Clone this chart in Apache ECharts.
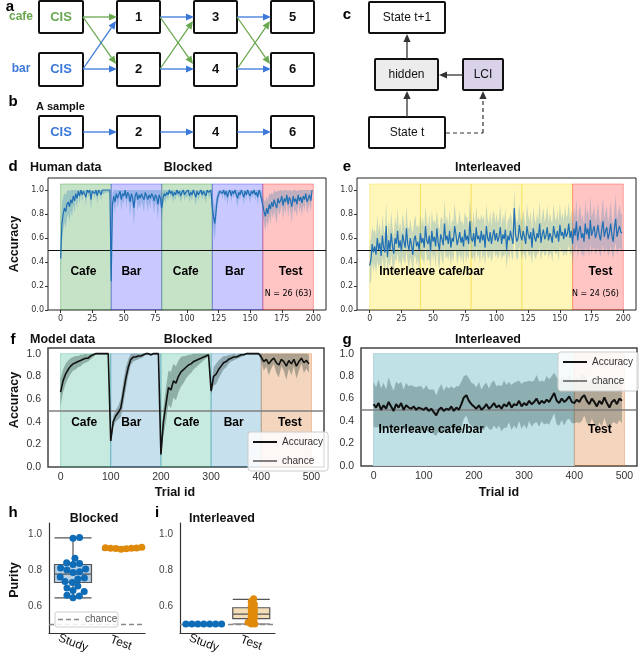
<!DOCTYPE html>
<html><head><meta charset="utf-8">
<script src="https://cdn.jsdelivr.net/npm/echarts@6/dist/echarts.min.js"></script>
<style>html,body{margin:0;padding:0;background:#fff}#c{width:640px;height:665px}</style>
</head><body><div id="c"></div><script>
// ---------------- DATA ----------------
// d: human, blocked (200 trials)
const dMean = [
.43,.72,.80,.85,.82,.88,.90,.86,.92,.89,.95,.91,.97,.93,.99,.95,1.0,.96,.99,1.0,.94,1.0,.98,1.0,.92,.99,1.0,.97,1.0,.95,1.0,1.0,.96,1.0,.99,1.0,1.0,1.0,1.0,1.0,
.24,.88,.95,.90,.97,.93,.96,.99,.92,.97,.95,1.0,.93,.98,.96,.90,.97,.93,.85,.95,.98,.92,.96,.93,.97,.94,.92,.98,.95,.92,.96,.93,.97,.95,.91,.96,.94,.88,.96,.93,
.85,.93,.97,.95,.98,.96,1.0,.97,.99,.95,.98,.96,1.0,.97,.99,.95,.98,1.0,.96,.98,.97,1.0,.95,.98,.96,1.0,.97,.94,.99,.96,.98,1.0,.96,.99,.97,.95,1.0,.98,.97,1.0,
.85,.78,.72,.82,.93,.96,.99,1.0,.97,1.0,.96,.99,.94,.98,1.0,.95,.99,.97,1.0,.96,.93,.98,.96,1.0,.97,.94,.99,.96,1.0,.97,.95,.99,.97,1.0,.96,.98,.94,1.0,.97,.98,
.87,.82,.78,.85,.80,.88,.84,.90,.86,.92,.88,.85,.93,.89,.91,.95,.87,.93,.90,.96,.88,.94,.91,.86,.95,.90,.93,.88,.96,.91,.94,.89,.95,.92,.97,.90,.93,.96,.91,1.0];
const dErr = [
.18,.16,.14,.12,.14,.11,.10,.13,.09,.12,.07,.10,.05,.09,.03,.07,.02,.06,.03,.02,.08,.02,.04,.02,.09,.03,.02,.05,.02,.07,.02,.02,.05,.02,.03,.02,.02,.02,.02,.02,
.08,.09,.06,.1,.05,.08,.06,.04,.1,.06,.07,.03,.09,.05,.07,.12,.06,.09,.15,.07,.05,.1,.07,.09,.06,.08,.11,.05,.07,.1,.06,.09,.05,.07,.11,.06,.08,.13,.06,.08,
.1,.07,.04,.06,.03,.05,.02,.04,.03,.06,.03,.05,.02,.04,.03,.06,.04,.02,.05,.03,.04,.02,.06,.03,.05,.02,.04,.07,.03,.05,.03,.02,.05,.03,.04,.06,.02,.03,.04,.02,
.1,.12,.14,.1,.05,.05,.03,.02,.05,.02,.06,.03,.07,.04,.02,.06,.03,.04,.02,.05,.08,.04,.05,.02,.04,.07,.03,.05,.02,.04,.06,.03,.04,.02,.05,.03,.07,.02,.04,.03,
.08,.1,.12,.1,.11,.09,.12,.08,.1,.09,.11,.13,.08,.1,.09,.07,.12,.08,.1,.06,.11,.08,.1,.13,.07,.1,.09,.11,.06,.1,.08,.11,.07,.09,.05,.1,.08,.06,.1,.02];
const dBlocks = [[0,40],[40,80],[80,120],[120,160],[160,200]];
const dBlockNames = ['Cafe','Bar','Cafe','Bar','Test'];

// e: human, interleaved (200 trials)
const eMean = [
.37,.42,.55,.48,.53,.46,.60,.50,.56,.45,.62,.52,.48,.70,.44,.58,.50,.64,.53,.47,
.60,.55,.66,.52,.58,.49,.63,.57,.52,.68,.55,.50,.60,.54,.46,.59,.62,.53,.57,.50,
.64,.56,.60,.52,.70,.58,.55,.62,.49,.66,.57,.61,.53,.68,.56,.50,.63,.59,.54,.72,
.58,.62,.55,.66,.52,.60,.57,.70,.63,.54,.59,.65,.56,.61,.53,.67,.58,.62,.55,.74,
.60,.57,.64,.53,.69,.59,.62,.56,.66,.58,.63,.52,.70,.60,.57,.65,.55,.62,.67,.58,
.64,.57,.61,.69,.55,.63,.59,.67,.50,.62,.58,.66,.60,.55,.85,.63,.57,.60,.71,.62,
.58,.66,.61,.55,.70,.63,.59,.65,.52,.68,.61,.57,.64,.60,.72,.56,.63,.67,.59,.62,
.69,.58,.64,.61,.56,.70,.63,.60,.66,.57,.71,.62,.65,.59,.68,.61,.64,.72,.60,.66,
.55,.68,.62,.74,.58,.66,.70,.60,.64,.57,.72,.63,.68,.59,.75,.62,.66,.70,.60,.64,
.71,.63,.58,.67,.74,.61,.66,.69,.59,.64,.72,.62,.57,.68,.76,.61,.66,.70,.65,.64];
const eErr = [
.16,.18,.15,.17,.14,.16,.19,.15,.17,.14,.18,.15,.16,.20,.14,.17,.15,.18,.16,.14,
.17,.15,.19,.14,.16,.15,.18,.16,.14,.19,.15,.17,.16,.14,.18,.15,.17,.16,.14,.18,
.16,.14,.18,.15,.17,.16,.14,.19,.15,.17,.16,.14,.18,.15,.17,.16,.14,.18,.16,.20,
.15,.17,.14,.18,.16,.15,.17,.19,.14,.16,.15,.18,.16,.14,.17,.15,.19,.16,.14,.18,
.16,.15,.18,.14,.17,.16,.15,.18,.14,.17,.16,.15,.19,.16,.14,.17,.15,.18,.16,.14,
.17,.15,.16,.19,.14,.17,.15,.18,.16,.14,.17,.15,.16,.14,.20,.16,.15,.17,.18,.14,
.16,.18,.15,.14,.19,.16,.15,.17,.14,.18,.16,.15,.17,.14,.19,.15,.16,.18,.14,.16,
.18,.15,.17,.14,.16,.19,.15,.14,.17,.16,.18,.14,.16,.15,.19,.16,.15,.18,.14,.17,
.16,.18,.15,.19,.14,.17,.18,.15,.16,.14,.19,.16,.17,.15,.20,.16,.15,.18,.14,.16,
.19,.15,.14,.17,.20,.15,.16,.18,.14,.16,.19,.15,.14,.17,.20,.15,.16,.18,.15,.16];
const eBlocks = [[0,40],[40,80],[80,120],[120,160],[160,200]];
const eBlockNames = ['Interleave','Interleave','Interleave','Interleave','Test'];

// f: model, blocked (every 5th trial of 500)
const fMean = [
.66,.76,.82,.86,.89,.91,.92,.93,.94,.95,.96,.96,.98,.99,1.0,1.0,1.0,1.0,1.0,1.0,
.23,.40,.45,.48,.52,.65,.78,.88,.95,.97,.97,.98,.98,.99,1.0,1.0,.99,1.0,1.0,1.0,
.11,.40,.55,.70,.68,.76,.74,.80,.84,.86,.88,.90,.91,.93,.94,.95,.96,.97,.98,.99,
.67,.80,.82,.86,.89,.92,.93,.95,.96,.97,.97,.98,.99,.99,1.0,1.0,1.0,1.0,1.0,1.0,
.97,.93,.95,.91,.94,.96,.92,.90,.95,.93,.89,.94,.91,.95,.89,.93,.96,.92,.94,.91];
const fErr = [
.12,.10,.09,.08,.07,.06,.06,.05,.05,.04,.04,.03,.03,.02,.01,.01,.01,.01,.01,.01,
.03,.05,.05,.06,.08,.10,.10,.07,.05,.04,.03,.03,.02,.02,.01,.01,.01,.01,.01,.01,
.03,.12,.15,.15,.16,.15,.15,.14,.13,.12,.10,.09,.08,.07,.06,.05,.04,.03,.02,.02,
.03,.08,.09,.08,.07,.06,.05,.04,.03,.03,.02,.02,.02,.01,.01,.01,.01,.01,.01,.01,
.04,.08,.06,.1,.07,.05,.09,.11,.06,.08,.12,.07,.1,.06,.11,.08,.05,.09,.07,.08];
const fBlocks = [[0,100],[100,200],[200,300],[300,400],[400,500]];
const fBlockNames = ['Cafe','Bar','Cafe','Bar','Test'];

// g: model, interleaved (every 5th trial of 500)
const gMean = [
.55,.52,.56,.50,.54,.51,.57,.53,.49,.55,.52,.56,.50,.54,.52,.51,.53,.50,.52,.51,
.50,.52,.49,.51,.48,.45,.50,.52,.49,.51,.50,.53,.49,.52,.50,.55,.61,.63,.58,.55,
.53,.51,.54,.50,.52,.55,.51,.53,.56,.52,.54,.51,.55,.53,.57,.52,.55,.54,.58,.53,
.56,.54,.58,.55,.57,.60,.55,.58,.56,.59,.57,.61,.65,.58,.56,.60,.57,.59,.62,.57,
.56,.59,.57,.61,.63,.58,.55,.60,.57,.53,.58,.55,.61,.56,.52,.57,.59,.55,.60,.58];
const gErr = [
.2,.18,.21,.19,.2,.17,.22,.19,.18,.2,.21,.19,.18,.2,.19,.21,.18,.2,.19,.2,
.18,.2,.19,.17,.2,.18,.19,.21,.18,.2,.19,.18,.2,.19,.21,.2,.19,.18,.2,.19,
.2,.19,.21,.18,.2,.19,.18,.21,.2,.19,.18,.2,.21,.19,.18,.2,.19,.21,.18,.2,
.19,.21,.18,.2,.19,.21,.2,.18,.19,.21,.2,.19,.18,.21,.2,.19,.21,.18,.2,.19,
.18,.2,.19,.21,.18,.2,.19,.18,.2,.21,.19,.2,.18,.2,.21,.19,.2,.18,.19,.2];
const gBlocks = [[0,400],[400,500]];
const gBlockNames = ['Interleave','Test'];

// h / i: purity
const purityCats = ['Study','Test'];
const hStudy = [0.98,0.975,0.865,0.84,0.835,0.83,0.81,0.805,0.80,0.79,0.785,0.76,0.755,0.75,0.735,0.73,0.71,0.70,0.685,0.68,0.66,0.655,0.645];
const hTest = [0.925,0.92,0.918,0.922,0.915,0.92,0.917,0.923];
const hBox = [[0.645,0.73,0.777,0.83,0.978],[0.91,0.915,0.92,0.922,0.927]];
const iStudy = [0.5,0.5,0.5,0.5,0.5,0.5,0.5];
const iTest = [0.64,0.625,0.61,0.60,0.59,0.58,0.57,0.56,0.55,0.54,0.53,0.52,0.51,0.50,0.50];
const iBox = [[0.5,0.5,0.5,0.5,0.5],[0.5,0.53,0.555,0.59,0.637]];
const chanceLevel = 0.5;

const accTicks = [0,0.2,0.4,0.6,0.8,1.0];
const humanXTicks = [0,25,50,75,100,125,150,175,200];
const modelXTicks = [0,100,200,300,400,500];
const purityTicks = [0.6,0.8,1.0];

// ---------------- STYLE / BUILD ----------------
const FONT = "'Liberation Sans', Arial, Helvetica, sans-serif";
const DJ = "'DejaVu Sans', sans-serif";
const seq = (n, step) => Array.from({length:n}, (_, i) => i * step);
const dTrials = seq(dMean.length, 1), eTrials = seq(eMean.length, 1);
const fTrials = seq(fMean.length, 5), gTrials = seq(gMean.length, 5);

const humanColors = {
  Cafe:{fill:'rgba(0,128,0,0.22)', stroke:'rgba(0,128,0,0.3)'},
  Bar:{fill:'rgba(0,0,255,0.21)', stroke:'rgba(0,0,255,0.3)'},
  Test:{fill:'rgba(255,0,0,0.23)', stroke:'rgba(255,0,0,0.3)'},
  Interleave:{fill:'rgba(255,221,0,0.27)', stroke:'rgba(240,205,0,0.3)'}
};
const modelColors = {
  Cafe:{fill:'rgba(2,158,115,0.22)', stroke:'rgba(2,158,115,0.3)'},
  Bar:{fill:'rgba(1,115,178,0.22)', stroke:'rgba(1,115,178,0.3)'},
  Test:{fill:'rgba(213,94,0,0.26)', stroke:'rgba(213,94,0,0.3)'},
  Interleave:{fill:'rgb(192,225,230)', stroke:'rgb(180,215,222)'}
};

function spanSeries(ai, blocks, names, colors, top) {
  return {type:'custom', xAxisIndex:ai, yAxisIndex:ai, z:1, silent:true, clip:true,
    data: blocks.map(b => [b[0], b[1], top]), encode:{x:[0,1], y:2},
    renderItem:(p, api) => {
      const a = api.coord([api.value(0), api.value(2)]);
      const b = api.coord([api.value(1), 0]);
      const c = colors[names[p.dataIndex]];
      return {type:'rect', shape:{x:a[0], y:a[1], width:b[0]-a[0], height:b[1]-a[1]},
        style:{fill:c.fill, stroke:c.stroke, lineWidth:1}};
    }};
}
function bandSeries(ai, xs, mean, err, fill) {
  return {type:'custom', xAxisIndex:ai, yAxisIndex:ai, z:2, silent:true, clip:true,
    data:[[xs[0], mean[0]]],
    renderItem:(p, api) => {
      const up = xs.map((x,i) => api.coord([x, Math.min(1, mean[i] + err[i])]));
      const lo = xs.map((x,i) => api.coord([x, Math.max(0, mean[i] - err[i])])).reverse();
      return {type:'polygon', shape:{points: up.concat(lo)}, style:{fill}};
    }};
}
function lineSeries(ai, name, xs, mean, color, width, chanceColor, chanceWidth) {
  return {type:'line', name, xAxisIndex:ai, yAxisIndex:ai, z:4, symbol:'none', showSymbol:false,
    data: xs.map((x,i) => [x, mean[i]]), lineStyle:{color, width}, itemStyle:{color},
    markLine:{silent:true, symbol:'none', label:{show:false}, z:3,
      lineStyle:{color:chanceColor, width:chanceWidth, type:'solid'}, data:[{yAxis:chanceLevel}]}};
}
function textSeries(ai, items) {
  return {type:'custom', xAxisIndex:ai, yAxisIndex:ai, z:6, silent:true,
    data: items.map(t => [t.x, t.y]),
    renderItem:(p, api) => {
      const it = items[p.dataIndex];
      const c = api.coord([api.value(0), api.value(1)]);
      return {type:'text', x:c[0], y:c[1], style:{text:it.text, fill:'#000', fontSize:it.size||12,
        fontWeight:it.weight||'bold', fontFamily:it.family||FONT, align:'center', verticalAlign:'middle'}};
    }};
}
function swarm(vals, pxY, pxX, diam) {
  const order = vals.map((v,i)=>i).sort((a,b)=>vals[a]-vals[b]);
  const placed = [], res = new Array(vals.length);
  for (const i of order) {
    const y = vals[i]*pxY;
    const near = placed.filter(p => Math.abs(p.y - y) < diam);
    const cands = [0];
    near.forEach(p => { const dx = Math.sqrt(diam*diam - (p.y-y)*(p.y-y)); cands.push(p.x+dx+0.01, p.x-dx-0.01); });
    cands.sort((a,b)=>Math.abs(a)-Math.abs(b));
    const x = cands.find(c => near.every(p => (p.x-c)*(p.x-c) + (p.y-y)*(p.y-y) >= diam*diam - 0.05));
    placed.push({x, y}); res[i] = x / pxX;
  }
  return res;
}
const PX_Y = 110/(1.06-0.45), PX_X = 96/2;
function swarmSeries(ai, cat, vals, color, diam) {
  const off = swarm(vals, PX_Y, PX_X, diam);
  return {type:'scatter', xAxisIndex:ai, yAxisIndex:ai-2, z:5, symbolSize:7, silent:true,
    itemStyle:{color, opacity:1}, data: vals.map((v,i) => [cat + off[i], v])};
}
function boxSeries(ci, yi, box, fills) {
  return {type:'boxplot', xAxisIndex:ci, yAxisIndex:yi, z:3, silent:true, boxWidth:[37,37],
    itemStyle:{borderColor:'#555', borderWidth:1.2},
    data: box.map((b,i) => ({value:b, itemStyle:{color:fills[i], borderColor:'#555'}}))};
}
function chanceDash(ai) {
  return {type:'line', xAxisIndex:ai, yAxisIndex:ai-2, data:[], z:2,
    markLine:{silent:true, symbol:'none', label:{show:false},
      lineStyle:{color:'#888', width:1.3, type:[5,3]}, data:[{yAxis:chanceLevel}]}};
}

const valX = (gi, min, max, ticks, size, fam, showTick) => ({gridIndex:gi, type:'value', min, max,
  axisLine:{show:false}, splitLine:{show:false},
  axisTick:{show:showTick, length:3, customValues:ticks, lineStyle:{color:'#333'}},
  axisLabel:{customValues:ticks, fontSize:size, fontFamily:fam, color:'#333', margin:5}});
const valY = (gi, min, max, ticks, size, fam, showTick) => ({gridIndex:gi, type:'value', min, max,
  axisLine:{show:false, onZero:false}, splitLine:{show:false},
  axisTick:{show:showTick, length:3, customValues:ticks, lineStyle:{color:'#333'}},
  axisLabel:{customValues:ticks, fontSize:size, fontFamily:fam, color:'#333', margin:showTick?4:7,
    formatter:v => v.toFixed(1)}});
const catX = gi => ({gridIndex:gi, type:'category', data:purityCats,
  axisLine:{show:true, onZero:false, lineStyle:{color:'#333', width:1.2}}, axisTick:{show:false},
  axisLabel:{rotate:-20, fontSize:12, color:'#111', fontFamily:FONT, margin:10, align:'center'}});
const purY = gi => ({gridIndex:gi, type:'value', min:0.45, max:1.06,
  axisLine:{show:true, onZero:false, lineStyle:{color:'#333', width:1.2}}, splitLine:{show:false},
  axisTick:{show:false}, axisLabel:{customValues:purityTicks, fontSize:10, color:'#444', fontFamily:FONT, margin:7,
    formatter:v => v.toFixed(1)}});

// ---------------- DIAGRAMS (a, b, c) + titles ----------------
const G = [];
const GREEN = '#6aa84f', BLUE = '#3c78d8';
function box(x,y,w,h,fill){G.push({type:'rect', shape:{x,y,width:w,height:h,r:1}, style:{fill:fill||'#fff', stroke:'#111', lineWidth:2}});}
function txt(x,y,t,o){G.push({type:'text', x, y, z:10, style:Object.assign({text:t, fill:'#111', fontSize:12, fontFamily:FONT, align:'center', verticalAlign:'middle'}, o||{})});}
function arrow(x1,y1,x2,y2,color,lw,dash){
  const L=8, W=3.6, ang=Math.atan2(y2-y1,x2-x1);
  const bx=x2-L*Math.cos(ang), by=y2-L*Math.sin(ang);
  G.push({type:'line', shape:{x1,y1,x2:bx,y2:by}, style:{stroke:color, lineWidth:lw||1.3, lineDash:dash||null}});
  const px=-Math.sin(ang)*W, py=Math.cos(ang)*W;
  G.push({type:'polygon', shape:{points:[[x2,y2],[bx+px,by+py],[bx-px,by-py]]}, style:{fill:color}});
}
const B = {fontWeight:'bold', fontSize:13};
// a
box(39,1,44,32); box(117,1,43,32); box(194,1,43,32); box(271,1,43,32);
box(39,53,44,33); box(117,53,43,33); box(194,53,43,33); box(271,53,43,33);
txt(61,17,'CIS',Object.assign({fill:GREEN},B)); txt(61,69,'CIS',Object.assign({fill:BLUE},B));
txt(138.5,17,'1',B); txt(215.5,17,'3',B); txt(292.5,17,'5',B);
txt(138.5,69,'2',B); txt(215.5,69,'4',B); txt(292.5,69,'6',B);
arrow(83,17,117,17,GREEN); arrow(83,17,116,64,GREEN); arrow(83,69,116,21,BLUE); arrow(83,69,117,69,BLUE);
arrow(160,17,194,17,BLUE); arrow(160,17,193,64,GREEN); arrow(160,69,193,21,GREEN); arrow(160,69,194,69,BLUE);
arrow(237,17,271,17,BLUE); arrow(237,17,270,64,GREEN); arrow(237,69,270,21,GREEN); arrow(237,69,271,69,BLUE);
txt(21,17,'cafe',{fill:GREEN, fontWeight:'bold', fontSize:12});
txt(21,69,'bar',{fill:BLUE, fontWeight:'bold', fontSize:12});
// b
box(39,116,44,32); box(117,116,43,32); box(194,116,43,32); box(271,116,43,32);
txt(61,132,'CIS',Object.assign({fill:BLUE},B)); txt(138.5,132,'2',B); txt(215.5,132,'4',B); txt(292.5,132,'6',B);
arrow(83,132,117,132,BLUE); arrow(160,132,194,132,BLUE); arrow(237,132,271,132,BLUE);
txt(36,107,'A sample',{fontWeight:'bold', fontSize:11, align:'left'});
// c
box(369,2,76,31); box(375,59,63,31,'#ececec'); box(463,59,40,31,'#d9d2e9'); box(369,117,76,31);
txt(407,18,'State t+1',{fontSize:12}); txt(406.5,75,'hidden',{fontSize:12}); txt(483,75,'LCI',{fontSize:12}); txt(407,133,'State t',{fontSize:12});
arrow(407,59,407,34,'#333',1.3); arrow(407,117,407,91,'#333',1.3); arrow(463,75,439,75,'#333',1.3);
G.push({type:'line', shape:{x1:446,y1:133,x2:483,y2:133}, style:{stroke:'#333', lineWidth:1.2, lineDash:[4,3]}});
arrow(483,133,483,91,'#333',1.2,[4,3]);
// panel letters and titles
const L = {fontWeight:'bold', fontSize:15, fill:'#000'};
txt(10,7,'a',L); txt(13,102,'b',L); txt(347,15,'c',L);
txt(13,167,'d',L); txt(347,167,'e',L); txt(13,340,'f',L); txt(347,340,'g',L); txt(13,513,'h',L); txt(157,513,'i',L);
const T = {fontWeight:'bold', fontSize:12.5, fill:'#111'};
txt(30,168,'Human data',Object.assign({align:'left'},T)); txt(188,168,'Blocked',T); txt(488,168,'Interleaved',T);
txt(30,340,'Model data',Object.assign({align:'left'},T)); txt(188,340,'Blocked',T); txt(488,340,'Interleaved',T);
txt(94,519,'Blocked',T); txt(222,519,'Interleaved',T);
G.push({type:'text', x:15, y:244, rotation:Math.PI/2, style:{text:'Accuracy', fill:'#111', fontSize:12.5, fontWeight:'bold', fontFamily:FONT, align:'center', verticalAlign:'middle'}});
G.push({type:'text', x:15, y:400, rotation:Math.PI/2, style:{text:'Accuracy', fill:'#111', fontSize:12.5, fontWeight:'bold', fontFamily:FONT, align:'center', verticalAlign:'middle'}});
G.push({type:'text', x:15, y:580, rotation:Math.PI/2, style:{text:'Purity', fill:'#111', fontSize:12.5, fontWeight:'bold', fontFamily:FONT, align:'center', verticalAlign:'middle'}});
txt(175,493,'Trial id',T); txt(499,493,'Trial id',T);
// h legend
G.push({type:'rect', shape:{x:55,y:612,width:63,height:15,r:2}, style:{fill:'rgba(255,255,255,0.85)', stroke:'#ccc', lineWidth:1}, z:8});
G.push({type:'line', shape:{x1:58,y1:619.5,x2:80,y2:619.5}, style:{stroke:'#888', lineWidth:1.3, lineDash:[5,3]}, z:9});
txt(85,619.5,'chance',{fontSize:10, fill:'#555', align:'left'});

// ---------------- OPTION ----------------
const grids = [
  {left:48, top:178, width:278, height:132, show:true, borderColor:'#222', borderWidth:1, backgroundColor:'transparent'},
  {left:357, top:178, width:279, height:132, show:true, borderColor:'#222', borderWidth:1, backgroundColor:'transparent'},
  {left:48, top:348, width:276, height:119, show:true, borderColor:'#444', borderWidth:1.5, backgroundColor:'transparent'},
  {left:361, top:348, width:276, height:118, show:true, borderColor:'#444', borderWidth:1.5, backgroundColor:'transparent'},
  {left:49, top:523, width:96, height:110},
  {left:180, top:523, width:95, height:110}
];
const legendBase = {selectedMode:false, orient:'vertical', itemWidth:24, itemHeight:2, itemGap:9, icon:'rect',
  data:['Accuracy','chance'], textStyle:{fontSize:10, color:'#333', fontFamily:FONT},
  backgroundColor:'rgba(255,255,255,0.85)', borderColor:'#ccc', borderWidth:1, borderRadius:3, padding:[5,5,5,5]};
const option = {
  animation:false,
  textStyle:{fontFamily:FONT},
  grid:grids,
  xAxis:[
    valX(0,-10,210,humanXTicks,8,DJ,true), valX(1,-10,210,humanXTicks,8,DJ,true),
    valX(2,-25,525,modelXTicks,10.5,FONT,false), valX(3,-25,525,modelXTicks,10.5,FONT,false),
    catX(4), catX(5),
    {gridIndex:4, type:'value', min:-0.5, max:1.5, show:false},
    {gridIndex:5, type:'value', min:-0.5, max:1.5, show:false}
  ],
  yAxis:[
    valY(0,0,1.1,accTicks,8,DJ,true), valY(1,0,1.1,accTicks,8,DJ,true),
    valY(2,0,1.05,accTicks,10.5,FONT,false), valY(3,0,1.05,accTicks,10.5,FONT,false),
    purY(4), purY(5)
  ],
  legend:[
    Object.assign({left:248, top:432}, legendBase),
    Object.assign({left:558, top:352}, legendBase)
  ],
  graphic:G,
  series:[
    spanSeries(0,dBlocks,dBlockNames,humanColors,1.05),
    bandSeries(0,dTrials,dMean,dErr,'rgba(31,119,180,0.28)'),
    lineSeries(0,'human blocked',dTrials,dMean,'#1f6fb4',1.2,'#111',1.2),
    textSeries(0,[{text:'Cafe',x:18,y:0.32},{text:'Bar',x:56,y:0.32},{text:'Cafe',x:99,y:0.32},{text:'Bar',x:138,y:0.32},{text:'Test',x:182,y:0.32},
      {text:'N = 26 (63)',x:180,y:0.13,size:8,weight:'normal',family:DJ}]),

    spanSeries(1,eBlocks,eBlockNames,humanColors,1.05),
    bandSeries(1,eTrials,eMean,eErr,'rgba(31,119,180,0.25)'),
    lineSeries(1,'human interleaved',eTrials,eMean,'#1f6fb4',1.2,'#111',1.2),
    textSeries(1,[{text:'Interleave cafe/bar',x:49,y:0.32},{text:'Test',x:182,y:0.32},
      {text:'N = 24 (56)',x:178,y:0.13,size:8,weight:'normal',family:DJ}]),

    spanSeries(2,fBlocks,fBlockNames,modelColors,1.0),
    bandSeries(2,fTrials,fMean,fErr,'rgba(25,55,45,0.33)'),
    lineSeries(2,'Accuracy',fTrials,fMean,'#111',1.6,'#7f7f7f',1.5),
    textSeries(2,[{text:'Cafe',x:47,y:0.39},{text:'Bar',x:141,y:0.39},{text:'Cafe',x:251,y:0.39},{text:'Bar',x:345,y:0.39},{text:'Test',x:457,y:0.39}]),
    {type:'line', name:'chance', xAxisIndex:2, yAxisIndex:2, data:[], symbol:'none', lineStyle:{color:'#7f7f7f', width:2}, itemStyle:{color:'#7f7f7f'}},

    spanSeries(3,gBlocks,gBlockNames,modelColors,1.0),
    bandSeries(3,gTrials,gMean,gErr,'rgba(25,60,60,0.3)'),
    lineSeries(3,'Accuracy',gTrials,gMean,'#111',2,'#7f7f7f',1.5),
    textSeries(3,[{text:'Interleave cafe/bar',x:115,y:0.32},{text:'Test',x:451,y:0.32}]),
    {type:'line', name:'chance', xAxisIndex:3, yAxisIndex:3, data:[], symbol:'none', lineStyle:{color:'#7f7f7f', width:2}, itemStyle:{color:'#7f7f7f'}},

    chanceDash(6),
    boxSeries(4,4,hBox,['#b5cfe4','#f3deb8']),
    swarmSeries(6,0,hStudy,'#0f6cb6',6.6),
    swarmSeries(6,1,hTest,'#e08a0b',5.2),

    chanceDash(7),
    boxSeries(5,5,iBox,['#b5cfe4','#f3deb8']),
    swarmSeries(7,0,iStudy,'#0f6cb6',6),
    swarmSeries(7,1,iTest,'#e08a0b',3.6)
  ]
};
const chart = echarts.init(document.getElementById('c'), null, {renderer:'canvas'});
chart.setOption(option);
</script></body></html>
